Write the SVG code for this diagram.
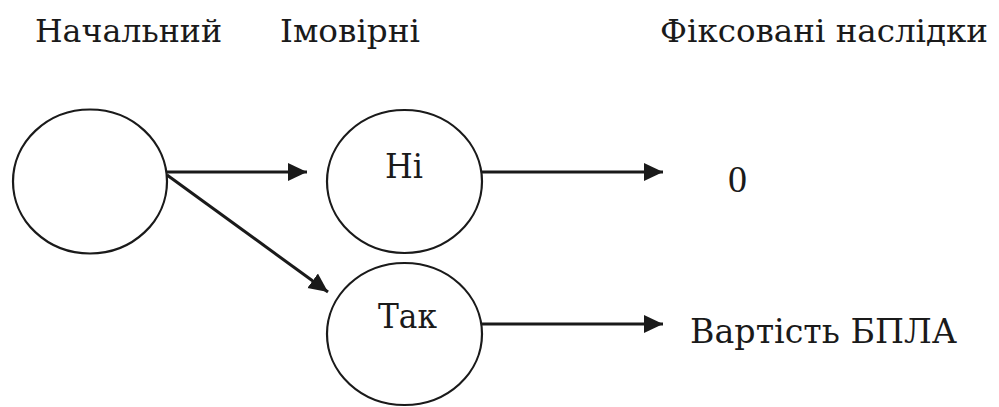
<svg xmlns="http://www.w3.org/2000/svg" width="999" height="407" viewBox="0 0 999 407">
  <style>
    .node { fill: #fff; stroke: #1a1a1a; stroke-width: 2.2; }
    .edge { stroke: #1a1a1a; stroke-width: 3; fill: none; }
    .lbl { fill: #1a1a1a; font-size: 34px; font-family: 'DejaVu Serif', serif; }
    .head { fill: #1a1a1a; font-size: 32px; font-family: 'DejaVu Serif', serif; }
    .num { fill: #1a1a1a; font-size: 38px; font-family: 'Liberation Serif', serif; }
  </style>
  <defs>
    <marker id="arrow" markerUnits="userSpaceOnUse" markerWidth="20" markerHeight="20" viewBox="0 0 20 20" refX="19" refY="10" orient="auto">
      <path d="M0,1 L19,10 L0,19 Z" fill="#1a1a1a"/>
    </marker>
  </defs>

  <!-- connectors -->
  <g id="connectors">
    <line class="edge" x1="167" y1="172" x2="307" y2="172" marker-end="url(#arrow)"/>
    <line class="edge" x1="167" y1="175" x2="328" y2="292" marker-end="url(#arrow)"/>
    <line class="edge" x1="482" y1="172" x2="663" y2="172" marker-end="url(#arrow)"/>
    <line class="edge" x1="482" y1="324" x2="663" y2="324" marker-end="url(#arrow)"/>
  </g>

  <!-- column headings -->
  <g id="headings">
    <text class="head" x="35" y="42" textLength="187" lengthAdjust="spacingAndGlyphs">Начальний</text>
    <text class="head" x="280" y="42" textLength="140" lengthAdjust="spacingAndGlyphs">Імовірні</text>
    <text class="head" x="660" y="42" textLength="328" lengthAdjust="spacingAndGlyphs">Фіксовані наслідки</text>
  </g>

  <g id="start">
    <ellipse class="node" cx="90" cy="181.5" rx="77" ry="72"/>
  </g>

  <g id="no">
    <ellipse class="node" cx="404.5" cy="181.5" rx="77.5" ry="71.5"/>
    <text class="lbl" x="385" y="178" textLength="38" lengthAdjust="spacingAndGlyphs">Ні</text>
  </g>

  <g id="yes">
    <ellipse class="node" cx="404.5" cy="334" rx="77.5" ry="71"/>
    <text class="lbl" x="378" y="328" textLength="59" lengthAdjust="spacingAndGlyphs">Так</text>
  </g>

  <g id="outcome-zero">
    <text class="num" x="728" y="192">0</text>
  </g>

  <g id="outcome-cost">
    <text class="lbl" x="690" y="343" textLength="267" lengthAdjust="spacingAndGlyphs">Вартість БПЛА</text>
  </g>
</svg>
